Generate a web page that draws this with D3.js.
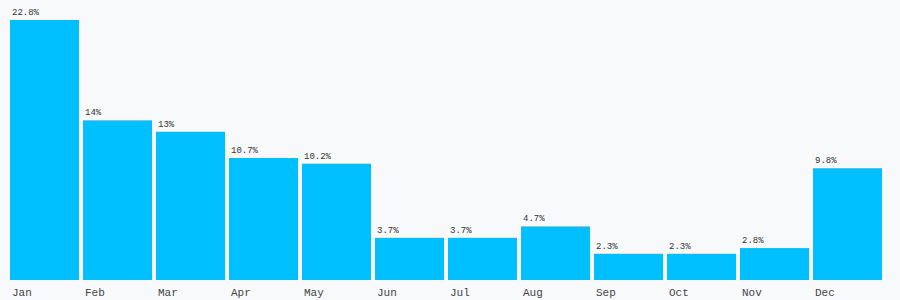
<!DOCTYPE html>
<html><head><meta charset="utf-8">
<script src="https://cdn.jsdelivr.net/npm/d3@7"></script>
<style>html,body{margin:0;padding:0;background:#f8f9fb;}svg{display:block;}</style>
</head><body><svg id="c" width="900" height="300"></svg>
<script>
const months = ["Jan","Feb","Mar","Apr","May","Jun","Jul","Aug","Sep","Oct","Nov","Dec"];
const values = [22.8,14,13,10.7,10.2,3.7,3.7,4.7,2.3,2.3,2.8,9.8];
const labels = ["22.8%","14%","13%","10.7%","10.2%","3.7%","3.7%","4.7%","2.3%","2.3%","2.8%","9.8%"];

const svg = d3.select("#c");
svg.append("rect").attr("width",900).attr("height",300).attr("fill","#f8f9fb");
const x = d3.scaleBand().domain(months).range([10,882]).paddingInner(0.055).paddingOuter(0);
const y = d3.scaleLinear().domain([0,22.8]).range([280,20]);

svg.selectAll("rect.bar").data(values).join("rect").attr("class","bar")
  .attr("x",(d,i)=>x(months[i])).attr("y",d=>y(d))
  .attr("width",x.bandwidth()).attr("height",d=>y(0)-y(d))
  .attr("fill","#00bfff");

svg.selectAll("text.val").data(values).join("text").attr("class","val")
  .attr("x",(d,i)=>x(months[i])+2).attr("y",d=>y(d)-5)
  .attr("font-family","Liberation Mono, monospace").attr("font-size","9px").attr("fill","#333")
  .text((d,i)=>labels[i]);

const ax = svg.append("g").attr("transform","translate(0,280)")
  .call(d3.axisBottom(x).tickSize(0).tickPadding(0));
ax.select(".domain").remove();
ax.selectAll("text").attr("text-anchor","start").attr("x",2).attr("dy",0).attr("y",16)
  .attr("font-family","Liberation Mono, monospace").attr("font-size","11px").attr("fill","#444");
ax.selectAll(".tick").attr("transform",d=>`translate(${x(d)},0)`);
</script></body></html>
